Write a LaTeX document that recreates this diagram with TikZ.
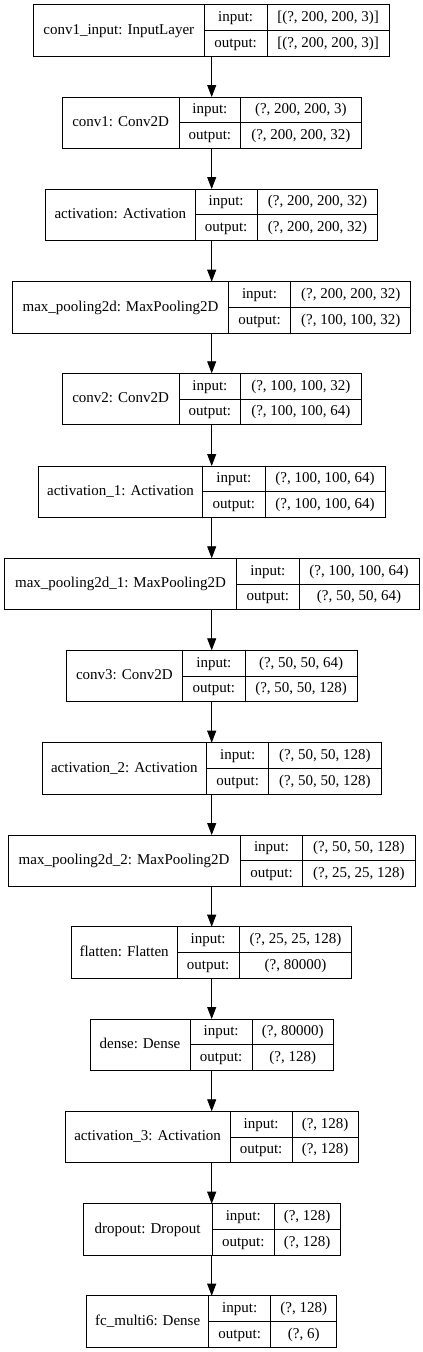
\documentclass[tikz,border=0pt]{standalone}
\usepackage{fontspec}
\setmainfont{Liberation Serif}
\usetikzlibrary{arrows.meta}
\tikzset{
  box/.style={draw=black, line width=0.8pt, rectangle, inner sep=0pt, outer sep=0pt, minimum height=51.3pt},
  cell/.style={draw=black, line width=0.8pt},
  txt/.style={inner sep=0pt, text height=11pt, text depth=3pt, font=\fontsize{15}{17}\selectfont, anchor=center},
  arr/.style={draw=black, line width=0.8pt, -{Triangle[width=9pt,length=12pt]}}
}
\newcommand\lay[9]{%
  \pgfmathsetmacro\ya{#2}\pgfmathsetmacro\yb{#2+51.3}\pgfmathsetmacro\ym{#2+25.65}%
  \pgfmathsetmacro\yu{#2+12.825}\pgfmathsetmacro\yl{#2+38.475}%
  \node[box, minimum width={(#4-#3)*1pt}, anchor=north west] (#1) at (#3,\ya) {};
  \draw[cell] (#5,\ya) -- (#5,\yb) (#6,\ya) -- (#6,\yb) (#5,\ym) -- (#4,\ym);
  \node[txt] (#1-lab) at ({(#3+#5)/2},\ym) {#7};
  \node[txt] (#1-ik) at ({(#5+#6)/2},\yu) {input:};
  \node[txt] (#1-ok) at ({(#5+#6)/2},\yl) {output:};
  \node[txt] (#1-iv) at ({(#6+#4)/2},\yu) {#8};
  \node[txt] (#1-ov) at ({(#6+#4)/2},\yl) {#9};
}
\begin{document}
\begin{tikzpicture}[x=1pt,y=-1pt]
\useasboundingbox (0,0) rectangle (423,1352);
\lay{b1}{4.7}{33.3}{389.3}{204.3}{267}{conv1\_input: InputLayer}{[(?, 200, 200, 3)]}{[(?, 200, 200, 3)]}
\lay{b2}{97}{62.3}{361}{179}{240.7}{conv1: Conv2D}{(?, 200, 200, 3)}{(?, 200, 200, 32)}
\lay{b3}{189}{45.7}{377.7}{195}{257.3}{activation: Activation}{(?, 200, 200, 32)}{(?, 200, 200, 32)}
\lay{b4}{281.7}{12.7}{410.7}{228.3}{290.7}{max\_pooling2d: MaxPooling2D}{(?, 200, 200, 32)}{(?, 100, 100, 32)}
\lay{b5}{373.3}{62.3}{361}{179}{240.7}{conv2: Conv2D}{(?, 100, 100, 32)}{(?, 100, 100, 64)}
\lay{b6}{466}{38.3}{385}{202.7}{265}{activation\_1: Activation}{(?, 100, 100, 64)}{(?, 100, 100, 64)}
\lay{b7}{558.3}{4.3}{419}{236.7}{299}{max\_pooling2d\_1: MaxPooling2D}{(?, 100, 100, 64)}{(?, 50, 50, 64)}
\lay{b8}{650.3}{66}{357.3}{182.7}{245}{conv3: Conv2D}{(?, 50, 50, 64)}{(?, 50, 50, 128)}
\lay{b9}{742.7}{42}{381}{206.7}{268.7}{activation\_2: Activation}{(?, 50, 50, 128)}{(?, 50, 50, 128)}
\lay{b10}{835}{8}{415}{240.3}{302.7}{max\_pooling2d\_2: MaxPooling2D}{(?, 50, 50, 128)}{(?, 25, 25, 128)}
\lay{b11}{926.7}{71.3}{351.7}{177}{239.3}{flatten: Flatten}{(?, 25, 25, 128)}{(?, 80000)}
\lay{b12}{1019}{90}{333.3}{190}{252.3}{dense: Dense}{(?, 80000)}{(?, 128)}
\lay{b13}{1111.3}{65.3}{358}{230}{292.3}{activation\_3: Activation}{(?, 128)}{(?, 128)}
\lay{b14}{1203.7}{83}{340}{212.3}{274.3}{dropout: Dropout}{(?, 128)}{(?, 128)}
\lay{b15}{1295.7}{86.7}{336.7}{208.7}{270.7}{fc\_multi6: Dense}{(?, 128)}{(?, 6)}
\coordinate (ax) at (211.7,0);
\foreach \a/\b in {b1/b2,b2/b3,b3/b4,b4/b5,b5/b6,b6/b7,b7/b8,b8/b9,b9/b10,b10/b11,b11/b12,b12/b13,b13/b14,b14/b15}
  \draw[arr] (\a.south -| ax) -- (\b.north -| ax);
\end{tikzpicture}
\end{document}
